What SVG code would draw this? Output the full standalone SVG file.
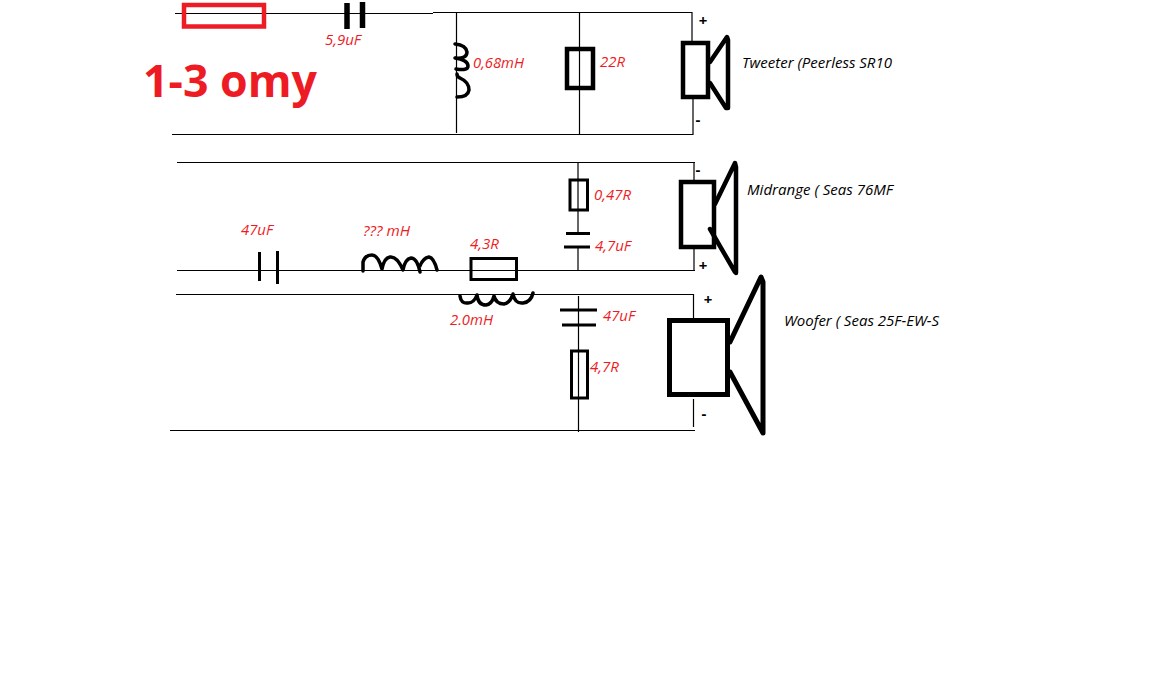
<svg xmlns="http://www.w3.org/2000/svg" width="1160" height="676" viewBox="0 0 1160 676">
<style>
.wire{fill:none;stroke:#000;stroke-width:1.2}
.box{fill:none;stroke:#000}
.bar{fill:none;stroke:#000}
.coil{fill:none;stroke:#000;stroke-width:3.5;stroke-linecap:round;stroke-linejoin:round}
.cone{fill:none;stroke:#000;stroke-linecap:round;stroke-linejoin:round}
text{font-family:"Open Sans","Liberation Sans",sans-serif;font-size:14px}
.val{fill:#ed1c24;font-style:italic}
.name{fill:#000;font-style:italic}
.pol{fill:#000;font-weight:700;font-size:15px;text-anchor:middle}
</style>
<rect width="1160" height="676" fill="#fff"/>
<g id="connectors">
<path class="wire" d="M175 13.5H433M433 12.5H692V41M172 134.5H693V99M456.500 13V133M579.500 13V134"/>
<path class="wire" d="M177 162.500H695M177 270.500H695M694 162V180M694 249V270M578 162V233M578 247V270"/>
<path class="wire" d="M176 294.500H694M170 430.500H695M693.500 294V318M693.500 399V427M578.500 296V432"/>
</g>
<g id="fuse"><rect x="184" y="5" width="80" height="21.500" fill="none" stroke="#ed1c24" stroke-width="4.500"/></g>
<g id="label-1-3-omy"><text x="143" y="97" style="font-size:45px;font-weight:700;fill:#ed1c24" textLength="174" lengthAdjust="spacingAndGlyphs">1-3 omy</text></g>
<g id="c-5-9uf">
<path class="bar" stroke-width="5.500" d="M347 3V29M362.500 2V28"/>
<text class="val" x="325" y="45" textLength="36" lengthAdjust="spacingAndGlyphs">5,9uF</text>
</g>
<g id="l-0-68mh">
<path class="coil" stroke-width="4" d="M455 44Q466 45 467 52Q467 59 455 58Q468 60 468 66Q468 71 456 69M457 74Q457 77 460 78Q469 82 469 90Q468 97 457 97"/>
<text class="val" x="473" y="68" textLength="51" lengthAdjust="spacingAndGlyphs">0,68mH</text>
</g>
<g id="r-22r">
<rect class="box" x="567" y="49" width="26" height="39" stroke-width="4.500"/>
<text class="val" x="600" y="67" textLength="25" lengthAdjust="spacingAndGlyphs">22R</text>
</g>
<g id="tweeter">
<rect class="box" x="683" y="43" width="25" height="54" stroke-width="4.500"/>
<path class="cone" stroke-width="4.500" d="M710 62L727 37L728 40V108L726 108L710 83"/>
<text class="pol" x="703" y="26">+</text>
<text class="pol" x="698" y="125">-</text>
<text class="name" x="742" y="68" textLength="150" lengthAdjust="spacingAndGlyphs">Tweeter (Peerless SR10</text>
</g>
<g id="c-47uf-mid">
<path class="bar" stroke-width="3" d="M259.500 252V281M277.500 251V284"/>
<text class="val" x="241" y="235" textLength="32" lengthAdjust="spacingAndGlyphs">47uF</text>
</g>
<g id="l-unknown">
<path class="coil" d="M363 271V262Q365 255 372 255Q378 255 382 269Q384 258 390 257Q397 256 403 270Q405 259 411 258Q417 258 420 272M420 266Q423 258 429 257Q434 258 437 270"/>
<text class="val" x="363" y="236" textLength="47" lengthAdjust="spacingAndGlyphs">??? mH</text>
</g>
<g id="r-4-3r">
<rect class="box" x="471" y="258.500" width="45.500" height="21" stroke-width="3"/>
<text class="val" x="470" y="249" textLength="29" lengthAdjust="spacingAndGlyphs">4,3R</text>
</g>
<g id="l-2-0mh">
<path class="coil" d="M460 296Q461 304 468 303Q474 303 477 295Q478 305 486 305Q492 304 494 296Q496 304 504 304Q510 303 513 294Q515 304 523 303Q531 302 533 293"/>
<text class="val" x="450" y="325" textLength="43" lengthAdjust="spacingAndGlyphs">2.0mH</text>
</g>
<g id="r-0-47r">
<rect class="box" x="570" y="180" width="17.500" height="30" stroke-width="3"/>
<text class="val" x="594" y="200" textLength="37" lengthAdjust="spacingAndGlyphs">0,47R</text>
</g>
<g id="c-4-7uf">
<path class="bar" stroke-width="3" d="M566 233.500H590M564 247H590"/>
<text class="val" x="595" y="251" textLength="36" lengthAdjust="spacingAndGlyphs">4,7uF</text>
</g>
<g id="midrange">
<rect class="box" x="681" y="182" width="33" height="65" stroke-width="4.500"/>
<path class="cone" stroke-width="4.500" d="M715 204L735 163L736 167V273L735 272L710 229"/>
<text class="pol" x="698" y="175">-</text>
<text class="pol" x="703" y="271">+</text>
<text class="name" x="747" y="195" textLength="146" lengthAdjust="spacingAndGlyphs">Midrange ( Seas 76MF</text>
</g>
<g id="c-47uf-woofer">
<path class="bar" stroke-width="3" d="M560 310H597M562 325H596"/>
<text class="val" x="603" y="321" textLength="32" lengthAdjust="spacingAndGlyphs">47uF</text>
</g>
<g id="r-4-7r">
<rect class="box" x="571.500" y="351" width="16" height="47" stroke-width="3"/>
<text class="val" x="590" y="372" textLength="29" lengthAdjust="spacingAndGlyphs">4,7R</text>
</g>
<g id="woofer">
<rect class="box" x="669.500" y="320.500" width="58" height="74" stroke-width="5"/>
<path class="cone" stroke-width="5" d="M730 342L761 277L763 282V433L730 372"/>
<text class="pol" x="708" y="305">+</text>
<text class="pol" x="704" y="419">-</text>
<text class="name" x="784" y="326" textLength="155" lengthAdjust="spacingAndGlyphs">Woofer ( Seas 25F-EW-S</text>
</g>
</svg>
